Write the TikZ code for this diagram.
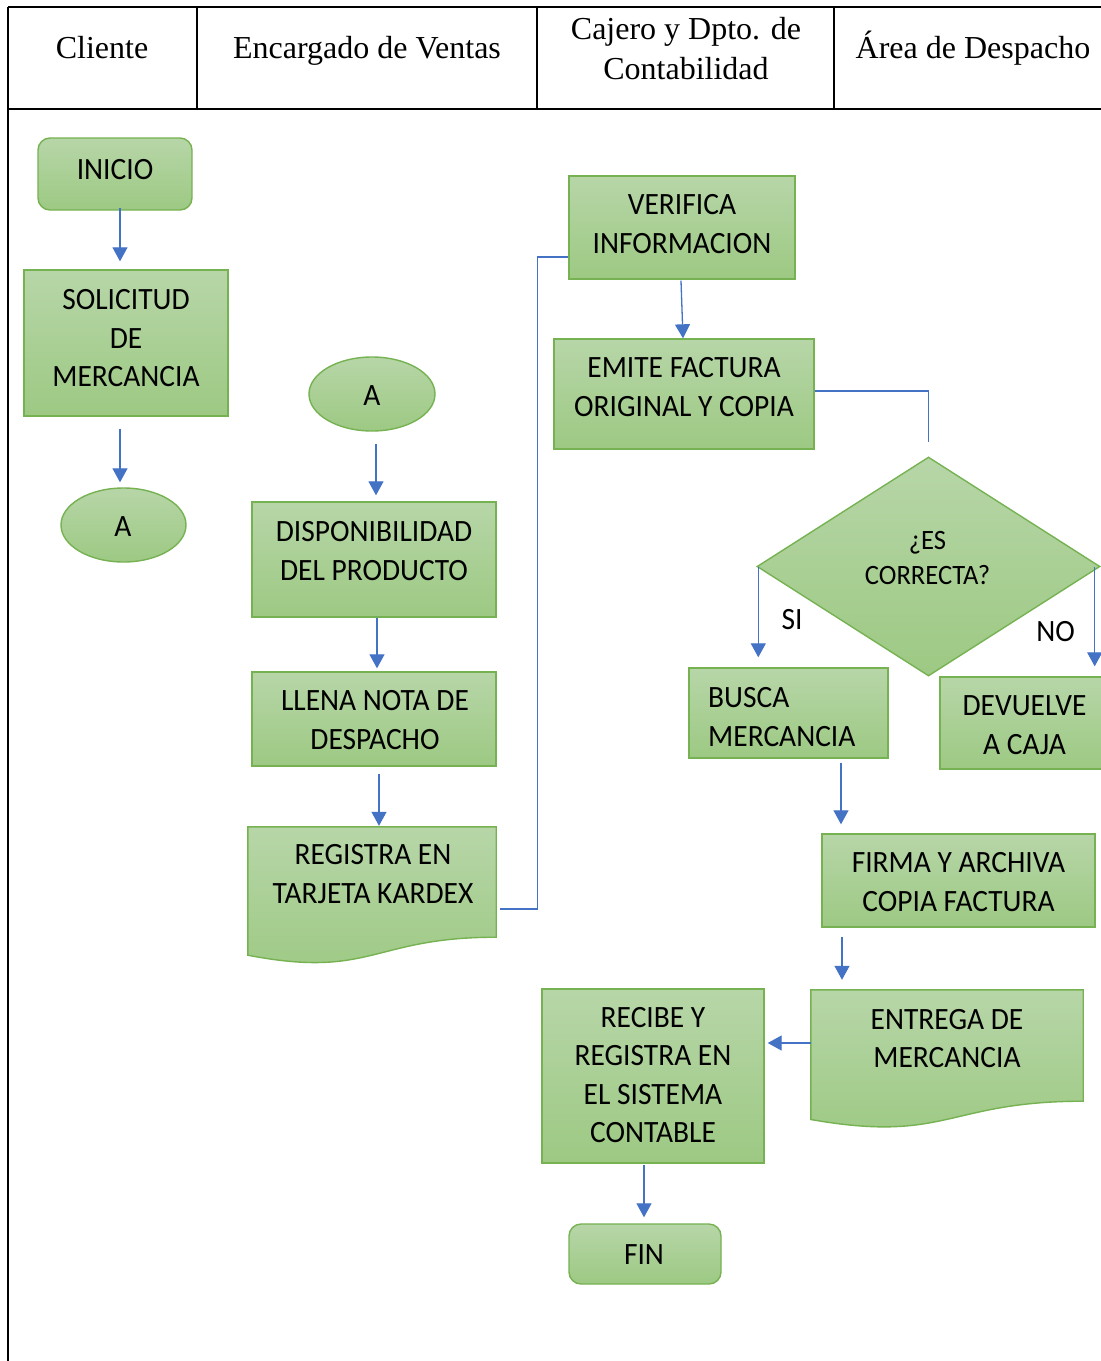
\documentclass[tikz,border=0pt]{standalone}
\usepackage{fontspec}
\setmainfont{Liberation Serif}
\newfontfamily\flowfont[FakeStretch=0.95]{Carlito}
\usetikzlibrary{shapes.geometric,arrows.meta,calc}
\definecolor{gtop}{RGB}{183,214,168}
\definecolor{gbot}{RGB}{157,201,131}
\definecolor{gbord}{RGB}{118,178,82}
\definecolor{conn}{RGB}{68,114,196}
\begin{document}
\begin{tikzpicture}[x=1pt,y=-1pt,
  shp/.style={draw=gbord, line width=1.4pt, top color=gtop, bottom color=gbot, inner sep=0pt},
  ghost/.style={inner sep=0pt},
  ftxt/.style={inner sep=0pt, align=center, font=\flowfont\fontsize{31}{38.5}\selectfont},
  dtxt/.style={inner sep=0pt, align=center, font=\flowfont\fontsize{28}{35}\selectfont},
  htxt/.style={inner sep=0pt, align=center, font=\fontsize{32}{40}\selectfont},
  tbl/.style={line width=1.4pt, black},
  arr/.style={draw=conn, line width=1.3pt, -{Triangle[width=15pt,length=14pt]}},
  lnk/.style={draw=conn, line width=1.3pt}
]
\clip (0,0) rectangle (1101,1361);
\fill[white] (0,0) rectangle (1101,1361);

% ---- table ----
\draw[tbl] (8,7) -- (1110,7);
\draw[tbl] (8,109) -- (1110,109);
\draw[tbl] (8,7) -- (8,1370);
\draw[tbl] (197,7) -- (197,109);
\draw[tbl] (537,7) -- (537,109);
\draw[tbl] (834,7) -- (834,109);
\node[htxt, anchor=base] (h1) at (102,58) {Cliente};
\node[htxt, anchor=base] (h2) at (367,58) {Encargado de Ventas};
\node[htxt] (h3) at (686,48.5) {Cajero y Dpto. de\\Contabilidad};
\node[htxt, anchor=base] (h4) at (973,58) {Área de Despacho};

% ---- shapes ----
\node[shp, rounded corners=12pt, minimum width=154, minimum height=72] (inicio) at (115,174) {};
\node[shp, minimum width=204, minimum height=146] (sol) at (126,343) {};
\node[shp, ellipse, minimum width=125, minimum height=74] (a1) at (123.5,525) {};
\node[shp, ellipse, minimum width=126, minimum height=74] (a2) at (372,394) {};
\node[shp, minimum width=244, minimum height=115] (disp) at (374,559.5) {};
\node[shp, minimum width=244, minimum height=94] (llena) at (374,719) {};
\node[ghost, minimum width=248, minimum height=110] (reg) at (372,882) {};
\shade[draw=gbord, line width=1.4pt, top color=gtop, bottom color=gbot]
  (reg.north west) -- (reg.north east) -- (reg.south east)
  .. controls (reg.south) and ($(reg.south)+(0,41.9)$) .. ($(reg.south west)+(0,18)$) -- cycle;
\node[shp, minimum width=226, minimum height=103] (ver) at (682,227.5) {};
\node[shp, minimum width=260, minimum height=110] (emi) at (684,394) {};
\node[shp, diamond, aspect=1.566, minimum width=343, minimum height=219] (dia) at (928.5,566.5) {};
\node[shp, minimum width=199, minimum height=90] (bus) at (788.5,713) {};
\node[shp, minimum width=170, minimum height=92] (dev) at (1025,723) {};
\node[shp, minimum width=273, minimum height=93] (fir) at (958.5,880.5) {};
\node[ghost, minimum width=272, minimum height=111] (ent) at (947,1045.5) {};
\shade[draw=gbord, line width=1.4pt, top color=gtop, bottom color=gbot]
  (ent.north west) -- (ent.north east) -- (ent.south east)
  .. controls (ent.south) and ($(ent.south)+(0,42.3)$) .. ($(ent.south west)+(0,18.3)$) -- cycle;
\node[shp, minimum width=222, minimum height=174] (rec) at (653,1076) {};
\node[shp, rounded corners=12pt, minimum width=152, minimum height=60] (fin) at (645,1254) {};

% ---- texts ----
\node[ftxt] (t-inicio) at (115,170) {INICIO};
\node[ftxt] (t-sol) at (126,338.5) {SOLICITUD\\DE\\MERCANCIA};
\node[ftxt] (t-a1) at (123,527) {A};
\node[ftxt] (t-a2) at (372,396) {A};
\node[ftxt] (t-disp) at (374,551) {DISPONIBILIDAD\\DEL PRODUCTO};
\node[ftxt] (t-llena) at (375,720) {LLENA NOTA DE\\DESPACHO};
\node[ftxt] (t-reg) at (373,874) {REGISTRA EN\\TARJETA KARDEX};
\node[ftxt] (t-ver) at (682,224) {VERIFICA\\INFORMACION};
\node[ftxt] (t-emi) at (684,387) {EMITE FACTURA\\ORIGINAL Y COPIA};
\node[dtxt] (t-dia) at (927.5,558) {¿ES\\CORRECTA?};
\node[ftxt] (t-si) at (792,620) {SI};
\node[ftxt] (t-no) at (1055.5,632) {NO};
\node[ftxt, align=left, anchor=west] (t-bus) at (708,717) {BUSCA\\MERCANCIA};
\node[ftxt] (t-dev) at (1024.5,725) {DEVUELVE\\A CAJA};
\node[ftxt] (t-fir) at (958.5,882) {FIRMA Y ARCHIVA\\COPIA FACTURA};
\node[ftxt] (t-ent) at (947,1038.5) {ENTREGA DE\\MERCANCIA};
\node[ftxt] (t-rec) at (653,1075) {RECIBE Y\\REGISTRA EN\\EL SISTEMA\\CONTABLE};
\node[ftxt] (t-fin) at (644,1255) {FIN};

% ---- connectors ----
\draw[arr] ([xshift=5pt,yshift=3pt]inicio.south) -- ([xshift=-6pt,yshift=8pt]sol.north);
\draw[arr] ([xshift=-6pt,yshift=-12pt]sol.south) -- ([xshift=-3.5pt,yshift=5pt]a1.north);
\draw[arr] ([xshift=4pt,yshift=-12pt]a2.south) -- ([xshift=2pt,yshift=6pt]disp.north);
\draw[arr] ([xshift=3pt]disp.south) -- ([xshift=3pt,yshift=3pt]llena.north);
\draw[arr] ([xshift=5pt,yshift=-7pt]llena.south) -- ([xshift=7pt,yshift=1pt]reg.north);
\draw[lnk] ([xshift=4pt,yshift=-27pt]reg.east) -- ++(37,0) |- ([yshift=-29.5pt]ver.west);
\draw[arr] ([xshift=-1pt,yshift=-1pt]ver.south) -- ([xshift=-1pt]emi.north);
\draw[lnk] ([yshift=3pt]emi.east) -| ([yshift=14pt]dia.north);
\draw[arr] ([xshift=2pt]dia.west) -- ([xshift=2pt,yshift=10pt]dia.west |- bus.north);
\draw[arr] ([xshift=-6pt]dia.east) -- ([xshift=-6pt,yshift=10pt]dia.east |- dev.north);
\draw[arr] ([xshift=52.5pt,yshift=-4pt]bus.south) -- ([xshift=-117.5pt,yshift=9pt]fir.north);
\draw[arr] ([xshift=-116.5pt,yshift=-9pt]fir.south) -- ([xshift=-105pt,yshift=10pt]ent.north);
\draw[arr] ([yshift=2.5pt]ent.west) -- ([xshift=3pt,yshift=33pt]rec.east);
\draw[arr] ([xshift=-9pt,yshift=-1pt]rec.south) -- ([xshift=-1pt,yshift=6pt]fin.north);
\end{tikzpicture}
\end{document}
